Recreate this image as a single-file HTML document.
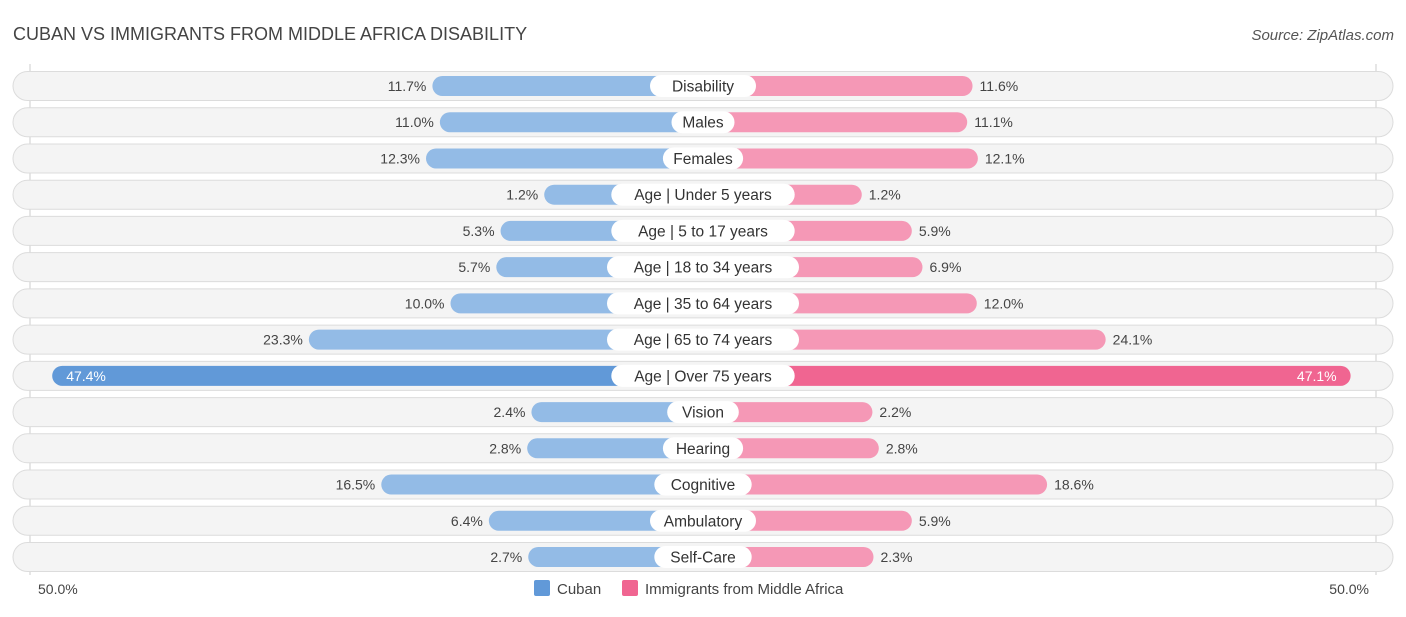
<!DOCTYPE html>
<html><head><meta charset="utf-8"><style>
body{margin:0;background:#fff;font-family:"Liberation Sans",sans-serif;}
svg text{font-family:"Liberation Sans",sans-serif;}
</style></head><body>
<svg id="chart" width="1406" height="612" xmlns="http://www.w3.org/2000/svg">
<text x="13" y="40" font-size="18" fill="#444">CUBAN VS IMMIGRANTS FROM MIDDLE AFRICA DISABILITY</text>
<text x="1394" y="40" font-size="15" fill="#555" font-style="italic" text-anchor="end">Source: ZipAtlas.com</text>
<line x1="30" y1="64" x2="30" y2="575" stroke="#ccc"/>
<line x1="1376" y1="64" x2="1376" y2="575" stroke="#ccc"/>
<g id="rows"></g>
<text x="38" y="594" font-size="14" fill="#444">50.0%</text>
<text x="1369" y="594" font-size="14" fill="#444" text-anchor="end">50.0%</text>
<rect x="534" y="580" width="16" height="16" rx="2" fill="#6199d8"/>
<text x="557" y="594" font-size="15" fill="#444">Cuban</text>
<rect x="622" y="580" width="16" height="16" rx="2" fill="#f06591"/>
<text x="645" y="594" font-size="15" fill="#444">Immigrants from Middle Africa</text>
</svg>
<script>
const categories=["Disability","Males","Females","Age | Under 5 years","Age | 5 to 17 years","Age | 18 to 34 years","Age | 35 to 64 years","Age | 65 to 74 years","Age | Over 75 years","Vision","Hearing","Cognitive","Ambulatory","Self-Care"];
const cubanValues=[11.7,11.0,12.3,1.2,5.3,5.7,10.0,23.3,47.4,2.4,2.8,16.5,6.4,2.7];
const immigrantValues=[11.6,11.1,12.1,1.2,5.9,6.9,12.0,24.1,47.1,2.2,2.8,18.6,5.9,2.3];
const NS="http://www.w3.org/2000/svg";
const cx=703, y0=86, dy=36.23;
function span(v){return 146+10.65*v;}
function rowY(i){return y0+i*dy;}
const g=document.getElementById('rows');
function mk(tag,attrs){const e=document.createElementNS(NS,tag);for(const k in attrs)e.setAttribute(k,attrs[k]);return e;}
const maxC=Math.max(...cubanValues), maxI=Math.max(...immigrantValues);
categories.forEach((c,i)=>{
  const y=rowY(i);
  const bg=mk('rect',{x:13,y:y-14.5,width:1380,height:29,rx:14.5,fill:'#f4f4f4',stroke:'#dcdcdc'});
  
  
  g.appendChild(bg);
  const cv=cubanValues[i], iv=immigrantValues[i];
  const strongC=cv===maxC, strongI=iv===maxI;
  const ls=span(cv), rs=span(iv);
  const lb=mk('rect',{x:cx-ls,y:y-10,width:ls,height:20,rx:10,fill:strongC?'#6199d8':'#93bbe6'});
  
  
  g.appendChild(lb);
  const rb=mk('rect',{x:cx,y:y-10,width:rs,height:20,rx:10,fill:strongI?'#f06591':'#f598b6'});
  
  
  g.appendChild(rb);
  const lt=mk('text',{y:y+5,'font-size':14});
  if(strongC){lt.setAttribute('x',cx-ls+14);lt.setAttribute('fill','#fff');}
  else{lt.setAttribute('x',cx-ls-6);lt.setAttribute('text-anchor','end');lt.setAttribute('fill','#444');}
  lt.textContent=cv.toFixed(1)+'%';
  
  
  g.appendChild(lt);
  const rt=mk('text',{y:y+5,'font-size':14});
  if(strongI){rt.setAttribute('x',cx+rs-14);rt.setAttribute('text-anchor','end');rt.setAttribute('fill','#fff');}
  else{rt.setAttribute('x',cx+rs+7);rt.setAttribute('fill','#444');}
  rt.textContent=iv.toFixed(1)+'%';
  
  
  g.appendChild(rt);
  const w=c.length*8.6+20;
  const lp=mk('rect',{x:cx-w/2,y:y-11,width:w,height:22,rx:11,fill:'#fff'});
  
  
  g.appendChild(lp);
  const ct=mk('text',{x:cx,y:y+5.5,'font-size':15.5,'text-anchor':'middle',fill:'#333'});
  ct.textContent=c;
  
  
  g.appendChild(ct);
});
</script>
</body></html>
